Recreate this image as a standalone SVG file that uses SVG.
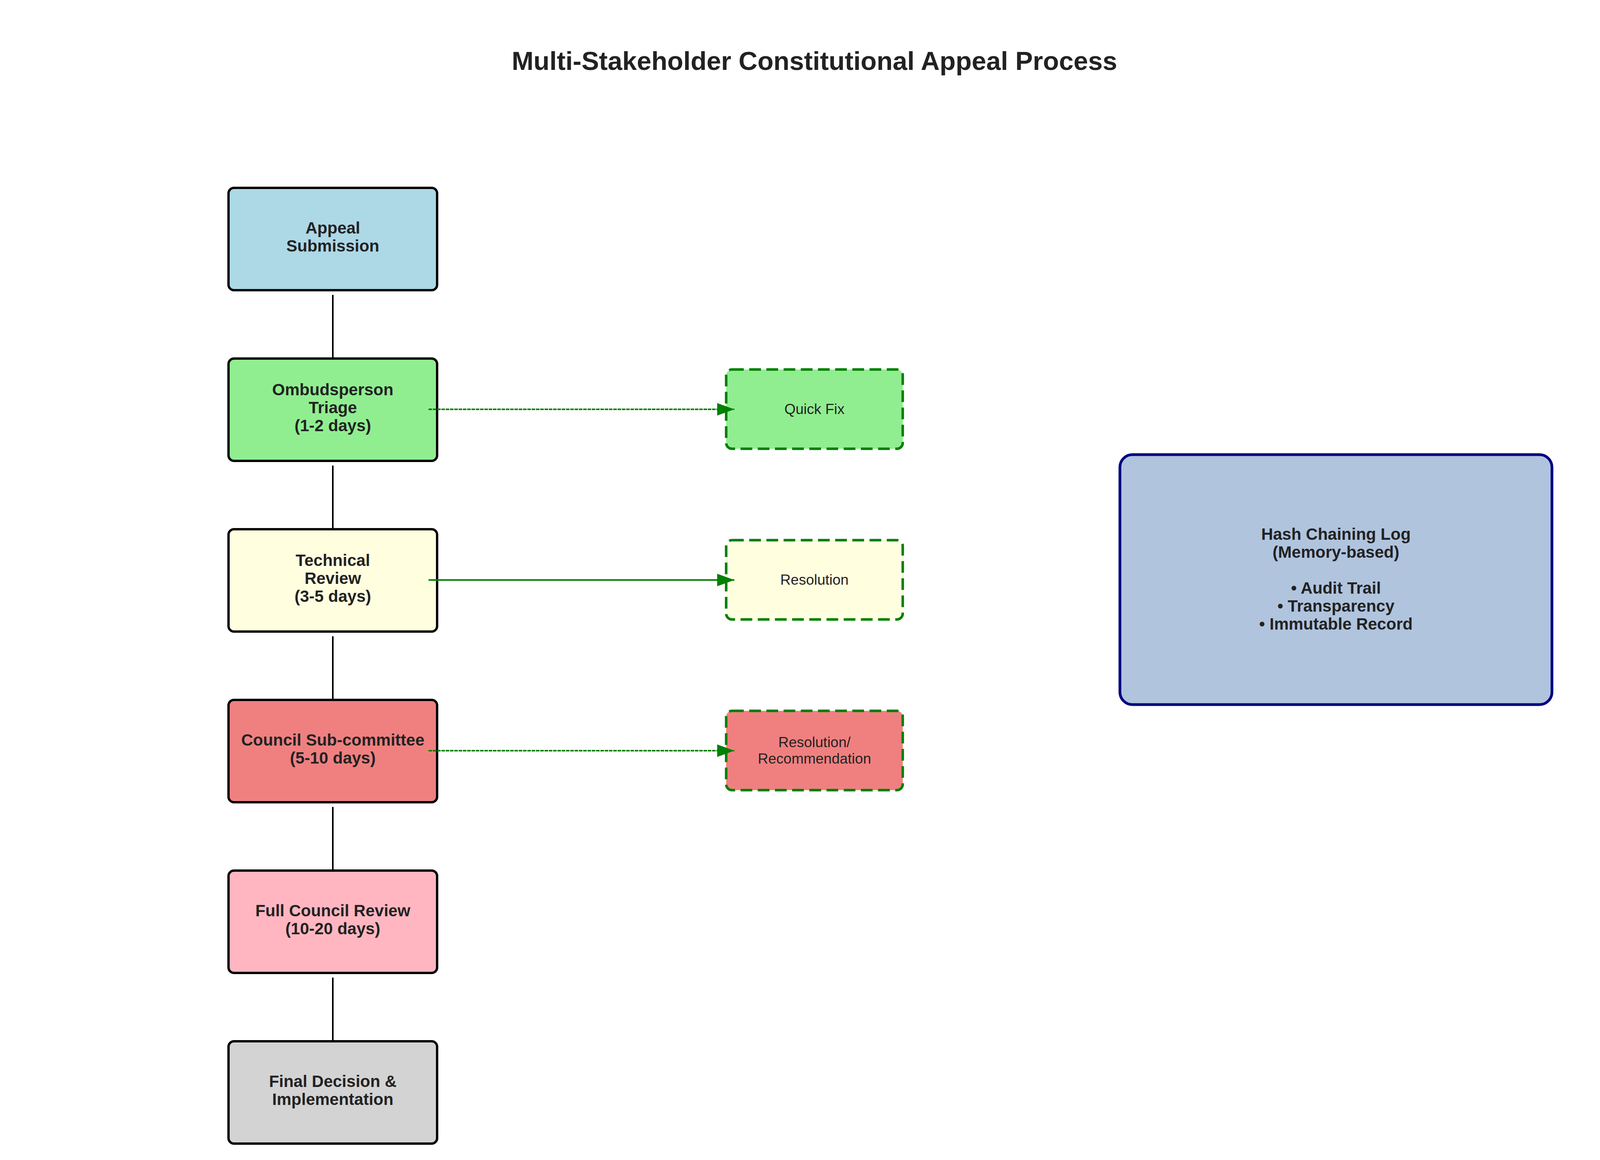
<svg xmlns="http://www.w3.org/2000/svg" width="4170" height="2970" viewBox="0 0 4170 2970">
<style>
text{font-family:"Liberation Sans",Arial,sans-serif;fill:#222;text-anchor:middle}
.title{font-size:67px;font-weight:bold}
.main{font-size:42px;font-weight:bold}
.side{font-size:37px}
.box{stroke:#000;stroke-width:6}
.sbox{stroke:#008000;stroke-width:6.5;stroke-dasharray:30 14}
.vline{stroke:#000;stroke-width:4;fill:none}
.arr{stroke:#008000;stroke-width:4;fill:none}
.dash{stroke-dasharray:9 2}
</style>
<defs>
<marker id="ah" markerUnits="userSpaceOnUse" markerWidth="46" markerHeight="34" refX="44" refY="16" orient="auto">
<path d="M0,0 L44,16 L0,32 Z" fill="#008000"/>
</marker>
</defs>
<rect width="4170" height="2970" fill="#fff"/>
<text class="title" x="2085" y="179">Multi-Stakeholder Constitutional Appeal Process</text>

<g id="n-appeal">
<rect class="box" x="585" y="481" width="534" height="262" rx="14" fill="#ADD8E6"/>
<text class="main" x="852" y="598">Appeal</text>
<text class="main" x="852" y="644">Submission</text>
</g>
<g id="n-ombudsperson">
<rect class="box" x="585" y="918" width="534" height="262" rx="14" fill="#90EE90"/>
<text class="main" x="852" y="1012">Ombudsperson</text>
<text class="main" x="852" y="1058">Triage</text>
<text class="main" x="852" y="1104">(1-2 days)</text>
</g>
<g id="n-technical">
<rect class="box" x="585" y="1355" width="534" height="262" rx="14" fill="#FFFFE0"/>
<text class="main" x="852" y="1449">Technical</text>
<text class="main" x="852" y="1495">Review</text>
<text class="main" x="852" y="1541">(3-5 days)</text>
</g>
<g id="n-subcommittee">
<rect class="box" x="585" y="1792" width="534" height="262" rx="14" fill="#F08080"/>
<text class="main" x="852" y="1909">Council Sub-committee</text>
<text class="main" x="852" y="1955">(5-10 days)</text>
</g>
<g id="n-fullcouncil">
<rect class="box" x="585" y="2229" width="534" height="262" rx="14" fill="#FFB6C1"/>
<text class="main" x="852" y="2346">Full Council Review</text>
<text class="main" x="852" y="2392">(10-20 days)</text>
</g>
<g id="n-final">
<rect class="box" x="585" y="2666" width="534" height="262" rx="14" fill="#D3D3D3"/>
<text class="main" x="852" y="2783">Final Decision &amp;</text>
<text class="main" x="852" y="2829">Implementation</text>
</g>

<g id="n-quickfix">
<rect class="sbox" x="1859" y="946" width="452" height="203" rx="15" fill="#90EE90"/>
<text class="side" x="2085" y="1060">Quick Fix</text>
</g>
<g id="n-resolution">
<rect class="sbox" x="1859" y="1383" width="452" height="203" rx="15" fill="#FFFFE0"/>
<text class="side" x="2085" y="1497">Resolution</text>
</g>
<g id="n-recommendation">
<rect class="sbox" x="1859" y="1820" width="452" height="203" rx="15" fill="#F08080"/>
<text class="side" x="2085" y="1913">Resolution/</text>
<text class="side" x="2085" y="1955">Recommendation</text>
</g>

<g id="n-hashlog">
<rect x="2867" y="1164" width="1106" height="640" rx="32" fill="#B0C4DE" stroke="#000080" stroke-width="7"/>
<text class="main" x="3420" y="1382">Hash Chaining Log</text>
<text class="main" x="3420" y="1428">(Memory-based)</text>
<text class="main" x="3420" y="1520">• Audit Trail</text>
<text class="main" x="3420" y="1566">• Transparency</text>
<text class="main" x="3420" y="1612">• Immutable Record</text>
</g>

<g id="connectors">
<line class="vline" x1="852" y1="755" x2="852" y2="918"/>
<line class="vline" x1="852" y1="1192" x2="852" y2="1355"/>
<line class="vline" x1="852" y1="1629" x2="852" y2="1792"/>
<line class="vline" x1="852" y1="2066" x2="852" y2="2229"/>
<line class="vline" x1="852" y1="2503" x2="852" y2="2666"/>
<line class="arr dash" x1="1097" y1="1048" x2="1880" y2="1048" marker-end="url(#ah)"/>
<line class="arr" x1="1097" y1="1485" x2="1880" y2="1485" marker-end="url(#ah)"/>
<line class="arr dash" x1="1097" y1="1922" x2="1880" y2="1922" marker-end="url(#ah)"/>
</g>
</svg>
